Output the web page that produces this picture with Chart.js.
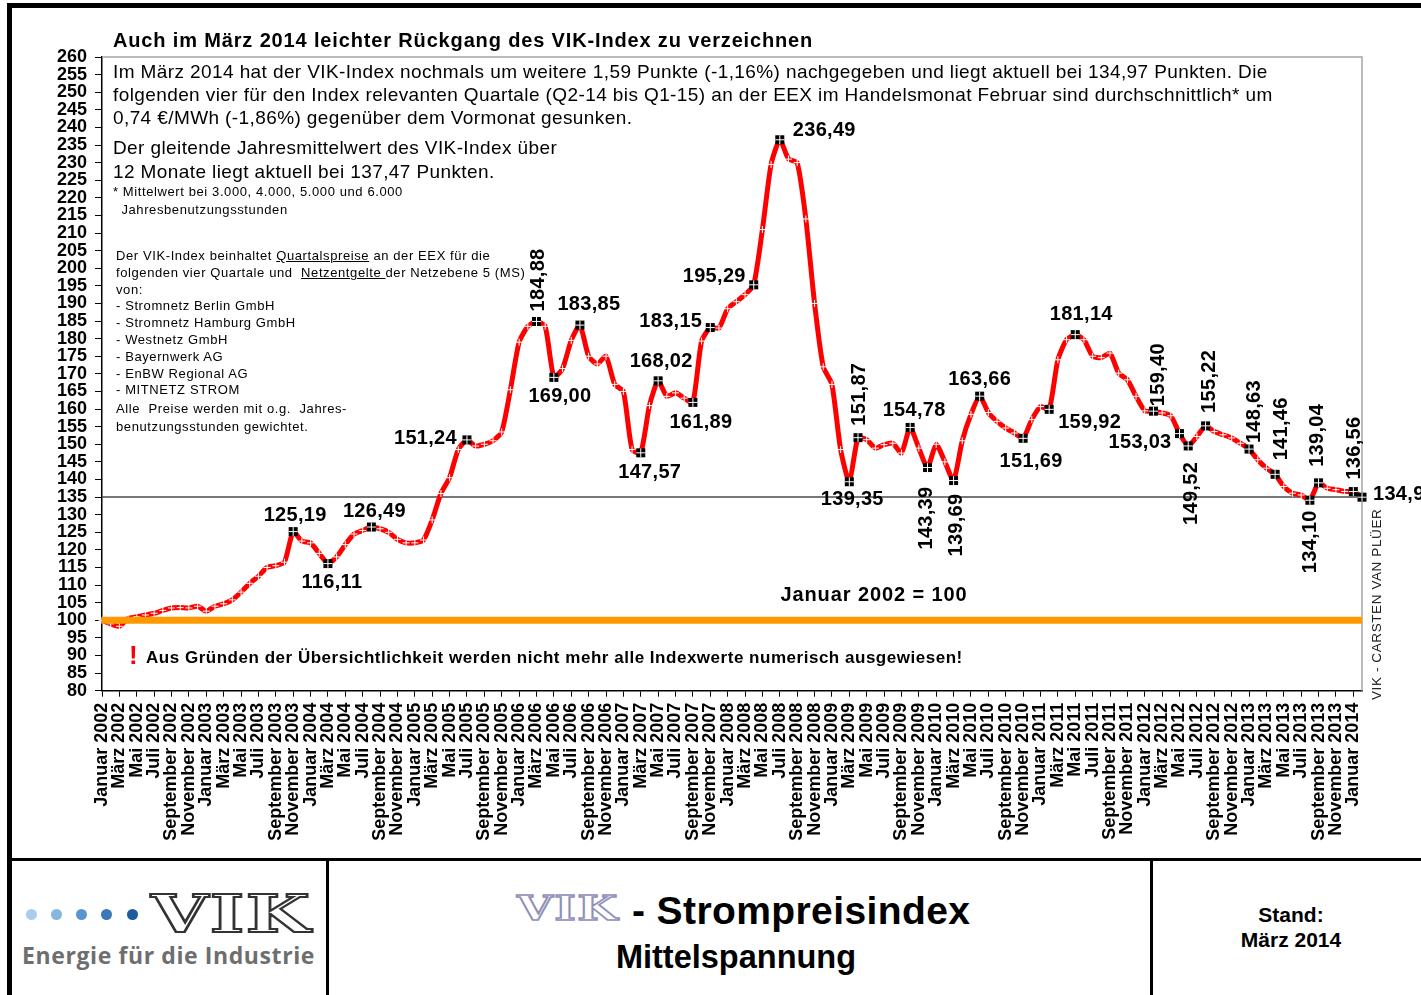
<!DOCTYPE html>
<html>
<head>
<meta charset="utf-8">
<script src="https://cdn.jsdelivr.net/npm/chart.js@4.4.1/dist/chart.umd.min.js"></script>
<style>
  body { margin: 0; background: #fff; }
  #page { position: relative; width: 1421px; height: 995px; overflow: hidden; background: #fff;
          font-family: 'Liberation Sans', Arial, sans-serif; color: #000; }
  #c { position: absolute; left: 0; top: 0; }
  .t { position: absolute; white-space: nowrap; }
  .bar { position: absolute; background: #000; }
  .b { font-weight: bold; }
</style>
</head>
<body>
<div id="page">
  <canvas id="c" width="1421" height="860"></canvas>

  <!-- Rahmen -->
  <div class="bar" style="left:7px;top:3px;width:1414px;height:5px"></div>
  <div class="bar" style="left:7px;top:3px;width:5px;height:992px"></div>
  <div class="bar" style="left:7px;top:858px;width:1414px;height:3px"></div>
  <div class="bar" style="left:326px;top:858px;width:3px;height:137px"></div>
  <div class="bar" style="left:1150px;top:858px;width:3px;height:137px"></div>

  <!-- Texte im Diagramm -->
  <div class="t b" style="left:113px;top:28px;font-size:20px;line-height:24px;letter-spacing:0.85px">Auch im März 2014 leichter Rückgang des VIK-Index zu verzeichnen</div>
  <div class="t" style="left:113px;top:60px;font-size:19px;line-height:23px;letter-spacing:0.4px">Im März 2014 hat der VIK-Index nochmals um weitere 1,59 Punkte (-1,16%) nachgegeben und liegt aktuell bei 134,97 Punkten. Die<br>folgenden vier für den Index relevanten Quartale (Q2-14 bis Q1-15) an der EEX im Handelsmonat Februar sind durchschnittlich* um<br>0,74 €/MWh (-1,86%) gegenüber dem Vormonat gesunken.</div>
  <div class="t" style="left:113px;top:136px;font-size:19px;line-height:24px;letter-spacing:0.4px">Der gleitende Jahresmittelwert des VIK-Index über<br>12 Monate liegt aktuell bei 137,47 Punkten.</div>
  <div class="t" style="left:113px;top:183px;font-size:13px;line-height:18px;letter-spacing:0.6px">* Mittelwert bei 3.000, 4.000, 5.000 und 6.000<br>&nbsp;&nbsp;Jahresbenutzungsstunden</div>
  <div class="t" style="left:116px;top:248px;font-size:13px;line-height:16.8px;letter-spacing:0.6px">Der VIK-Index beinhaltet <u>Quartalspreise</u> an der EEX für die<br>folgenden vier Quartale und &nbsp;<u>Netzentgelte </u>der Netzebene 5 (MS)<br>von:<br>- Stromnetz Berlin GmbH<br>- Stromnetz Hamburg GmbH<br>- Westnetz GmbH<br>- Bayernwerk AG<br>- EnBW Regional AG<br>- MITNETZ STROM</div>
  <div class="t" style="left:116px;top:400px;font-size:13px;line-height:18px;letter-spacing:0.6px">Alle &nbsp;Preise werden mit o.g. &nbsp;Jahres-<br>benutzungsstunden gewichtet.</div>
  <div class="t b" style="left:874px;top:582px;font-size:20px;line-height:24px;letter-spacing:0.9px;transform:translateX(-50%)">Januar 2002 = 100</div>
  <div class="t b" style="left:129px;top:640px;font-size:26px;line-height:30px;color:#ff0000">!</div>
  <div class="t b" style="left:146px;top:647px;font-size:17px;line-height:22px;letter-spacing:0.52px">Aus Gründen der Übersichtlichkeit werden nicht mehr alle Indexwerte numerisch ausgewiesen!</div>
  <div class="t" style="left:1369px;top:700px;font-size:13.5px;line-height:16px;letter-spacing:0.6px;color:#222;transform:rotate(-90deg);transform-origin:0 0">VIK - CARSTEN VAN PLÜER</div>

  <!-- Fußzeile -->
  <div class="t" style="left:26px;top:909px;width:130px;height:14px">
    <span style="position:absolute;left:0;top:0;width:11px;height:11px;border-radius:50%;background:#a9cdec"></span>
    <span style="position:absolute;left:25px;top:0;width:11px;height:11px;border-radius:50%;background:#86b5e0"></span>
    <span style="position:absolute;left:50px;top:0;width:11px;height:11px;border-radius:50%;background:#5b95cf"></span>
    <span style="position:absolute;left:75px;top:0;width:11px;height:11px;border-radius:50%;background:#3b78bb"></span>
    <span style="position:absolute;left:101px;top:0;width:11px;height:11px;border-radius:50%;background:#1f5c9f"></span>
  </div>
  <div class="t" style="left:151px;top:884px;font-family:'DejaVu Serif',serif;font-weight:bold;font-size:52px;line-height:60px;color:#fff;-webkit-text-stroke:2px #333;letter-spacing:1px;transform:scaleX(1.42);transform-origin:0 0">VIK</div>
  <div class="t" style="left:22px;top:940px;font-family:'Open Sans','Noto Sans',sans-serif;font-weight:700;font-size:23px;line-height:30px;letter-spacing:0.6px;color:#6e6e6e">Energie für die Industrie</div>

  <div class="t" style="left:517px;top:889px;font-family:'DejaVu Serif',serif;font-weight:bold;font-size:33px;line-height:40px;color:#fff;-webkit-text-stroke:1.5px #8f8fb8;letter-spacing:1px;transform:scaleX(1.4);transform-origin:0 0">VIK</div>
  <div class="t b" style="left:632px;top:889px;font-size:39px;line-height:44px;letter-spacing:0.4px">- Strompreisindex</div>
  <div class="t b" style="left:736px;top:938px;font-size:32.5px;line-height:38px;transform:translateX(-50%)">Mittelspannung</div>

  <div class="t b" style="left:1291px;top:902px;font-size:21px;line-height:26px;transform:translateX(-50%)">Stand:</div>
  <div class="t b" style="left:1291px;top:927px;font-size:21px;line-height:26px;transform:translateX(-50%)">März 2014</div>
</div>

<script>
// Monate und Jahre der Kategorieachse (Januar 2002 bis Februar 2014)
const monthNames = ['Januar', 'Februar', 'März', 'April', 'Mai', 'Juni', 'Juli',
  'August', 'September', 'Oktober', 'November', 'Dezember'];
const years = [2002, 2003, 2004, 2005, 2006, 2007, 2008, 2009, 2010, 2011, 2012, 2013, 2014];
const monthCount = 146;

// VIK-Strompreisindex Mittelspannung (Januar 2002 = 100), Monatswerte
const indexValues = [
  100, 99, 98.3, 100.5, 101, 101.5, 102, 102.8, 103.5, 103.6, 103.5, 104,            // 2002
  102.6, 104, 104.7, 105.8, 108, 110.5, 112.5, 115, 115.5, 116.5, 125.19, 122.5,      // 2003
  122, 119, 116.11, 118, 121.5, 124.5, 125.5, 126.49, 126, 125, 123, 122,             // 2004
  122, 122.8, 128.5, 136, 140.5, 148.5, 151.24, 149.5, 150, 151, 153.5, 165.5,        // 2005
  179, 183.5, 184.88, 183.5, 169, 171.5, 179.5, 183.85, 175, 172.8, 175, 167,         // 2006
  165, 148.5, 147.57, 161, 168.02, 163.6, 164.6, 163.1, 161.89, 179.3, 183.15, 183,   // 2007
  188.5, 190.5, 192.5, 195.29, 211, 229.5, 236.49, 231, 230, 214, 190, 172,           // 2008
  167, 148.5, 139.35, 151.87, 151.3, 148.9, 149.9, 150.3, 147.5, 154.78, 148.9, 143.39, // 2009
  150, 145, 139.69, 151, 158.5, 163.66, 159, 156.5, 154.6, 153.2, 151.69, 157,        // 2010
  160.7, 159.92, 174, 179.7, 181.14, 179.7, 175, 174.6, 175.9, 170.2, 168.3, 163.6,   // 2011
  159.5, 159.4, 158.9, 158.1, 153.03, 149.52, 152.2, 155.22, 153.6, 152.7, 151.8, 150.3, // 2012
  148.63, 145.6, 143.2, 141.46, 138, 136.1, 135.6, 134.1, 139.04, 137.5, 137.1, 136.6, // 2013
  136.56, 134.97                                                                       // 2014
];

// Basiswert und aktuelles Niveau (waagerechte Linien)
const baseValue = 100;
const currentLevel = 135;

// Monate, deren Wert als Zahl ausgewiesen ist
const labeledIdx = [22, 26, 31, 42, 50, 52, 55, 62, 64, 68, 70, 75, 78, 86, 87, 93, 95, 98,
  101, 106, 109, 112, 121, 124, 125, 127, 132, 135, 139, 140, 144, 145];

// Lage der Zahlen zum Punkt: [Art, dx, dy]  (c = mittig, l/r = links/rechts, up/down = senkrecht)
const labelPlacement = {
  22: ['c', 2, -16], 26: ['c', 4, 19], 31: ['c', 3, -16], 42: ['r', -10, -1],
  50: ['up', 1, -10], 52: ['c', 6, 19], 55: ['c', 9, -21], 62: ['c', 9, 20],
  64: ['c', 3, -19], 68: ['c', 8, 20], 70: ['r', -8, -6], 75: ['r', -8, -8],
  78: ['l', 13, -9], 86: ['c', 3, 18], 87: ['up', 0, -12], 93: ['c', 4, -17],
  95: ['down', -2, 19], 98: ['down', 2, 13], 101: ['c', 0, -17], 106: ['c', 8, 23],
  109: ['l', 9, 13], 112: ['c', 6, -20], 121: ['up', 4, -5], 124: ['r', -8, 9],
  125: ['down', 2, 16], 127: ['up', 3, -13], 132: ['up', 4, -6], 135: ['up', 5, -14],
  139: ['down', 0, 10], 140: ['up', -2, -16], 144: ['up', 0, -12], 145: ['l', 11, -3]
};

const categories = [];
for (let i = 0; i < monthCount; i++) {
  categories.push(monthNames[i % 12] + ' ' + years[Math.floor(i / 12)]);
}

const FONT = "'Liberation Sans', Arial, sans-serif";

const overlay = {
  id: 'overlay',
  beforeDatasetsDraw(chart) {
    const { ctx, chartArea: a, scales: { y } } = chart;
    ctx.save();
    // Rahmen der Zeichenfläche (oben, rechts)
    ctx.strokeStyle = '#a6a6a6';
    ctx.lineWidth = 1.5;
    ctx.beginPath();
    ctx.moveTo(a.left, a.top);
    ctx.lineTo(a.right, a.top);
    ctx.lineTo(a.right, a.bottom);
    ctx.stroke();
    // aktuelles Niveau
    const yl = y.getPixelForValue(currentLevel);
    ctx.strokeStyle = '#4a4a4a';
    ctx.lineWidth = 1.5;
    ctx.beginPath();
    ctx.moveTo(a.left, yl);
    ctx.lineTo(a.right, yl);
    ctx.stroke();
    ctx.restore();
  },
  afterDatasetsDraw(chart) {
    const { ctx, chartArea: a, scales: { y } } = chart;
    ctx.save();
    // Basislinie Januar 2002 = 100
    const yb = y.getPixelForValue(baseValue);
    ctx.strokeStyle = '#ff9900';
    ctx.lineWidth = 7;
    ctx.beginPath();
    ctx.moveTo(a.left, yb);
    ctx.lineTo(a.right, yb);
    ctx.stroke();

    const pts = chart.getDatasetMeta(0).data;
    // Markierungen
    labeledIdx.forEach(i => {
      const p = pts[i];
      ctx.fillStyle = '#000';
      ctx.fillRect(p.x - 4.5, p.y - 4.5, 9, 9);
      ctx.fillStyle = '#fff';
      ctx.fillRect(p.x - 4.5, p.y - 0.5, 9, 1);
      ctx.fillRect(p.x - 0.5, p.y - 4.5, 1, 9);
    });
    // Zahlen
    ctx.fillStyle = '#000';
    ctx.font = 'bold 20px ' + FONT;
    ctx.letterSpacing = '0.3px';
    ctx.textBaseline = 'middle';
    labeledIdx.forEach(i => {
      const p = pts[i];
      const [mode, dx, dy] = labelPlacement[i];
      const txt = indexValues[i].toFixed(2).replace('.', ',');
      if (mode === 'up' || mode === 'down') {
        ctx.save();
        ctx.translate(p.x + dx, p.y + dy);
        ctx.rotate(-Math.PI / 2);
        ctx.textAlign = mode === 'up' ? 'left' : 'right';
        ctx.fillText(txt, 0, 1);
        ctx.restore();
      } else {
        ctx.textAlign = mode === 'c' ? 'center' : (mode === 'l' ? 'left' : 'right');
        ctx.fillText(txt, p.x + dx, p.y + dy);
      }
    });
    ctx.restore();
  }
};

new Chart(document.getElementById('c'), {
  type: 'line',
  data: {
    labels: categories,
    datasets: [{
      data: indexValues,
      borderColor: '#ff0000',
      borderWidth: 5,
      tension: 0.2,
      pointStyle: 'cross',
      pointRadius: 3.5,
      pointHoverRadius: 3.5,
      pointBorderColor: '#ffffff',
      pointBorderWidth: 1
    }]
  },
  options: {
    responsive: false,
    animation: false,
    devicePixelRatio: 1,
    layout: { padding: { left: 0, top: 57, right: 59, bottom: 0 } },
    plugins: { legend: { display: false }, tooltip: { enabled: false } },
    scales: {
      x: {
        type: 'category',
        offset: false,
        grid: { offset: false, drawOnChartArea: false, drawTicks: true, tickLength: 6, color: '#000', lineWidth: 1 },
        border: { color: '#000', width: 1.5 },
        ticks: {
          autoSkip: false,
          minRotation: 90,
          maxRotation: 90,
          padding: 6,
          color: '#000',
          font: { family: FONT, size: 18, weight: 'bold' },
          callback: function (v, i) { return i % 2 === 0 ? this.getLabelForValue(v) : null; }
        },
        afterFit: s => { s.height = 169.3; }
      },
      y: {
        min: 80,
        max: 260,
        grid: { drawOnChartArea: false, drawTicks: true, tickLength: 7, color: '#000', lineWidth: 1 },
        border: { color: '#000', width: 1.5 },
        ticks: {
          stepSize: 5,
          autoSkip: false,
          padding: 8,
          color: '#000',
          font: { family: FONT, size: 18, weight: 'bold' }
        },
        afterFit: s => { s.width = 102; }
      }
    }
  },
  plugins: [overlay]
});
</script>
</body>
</html>
